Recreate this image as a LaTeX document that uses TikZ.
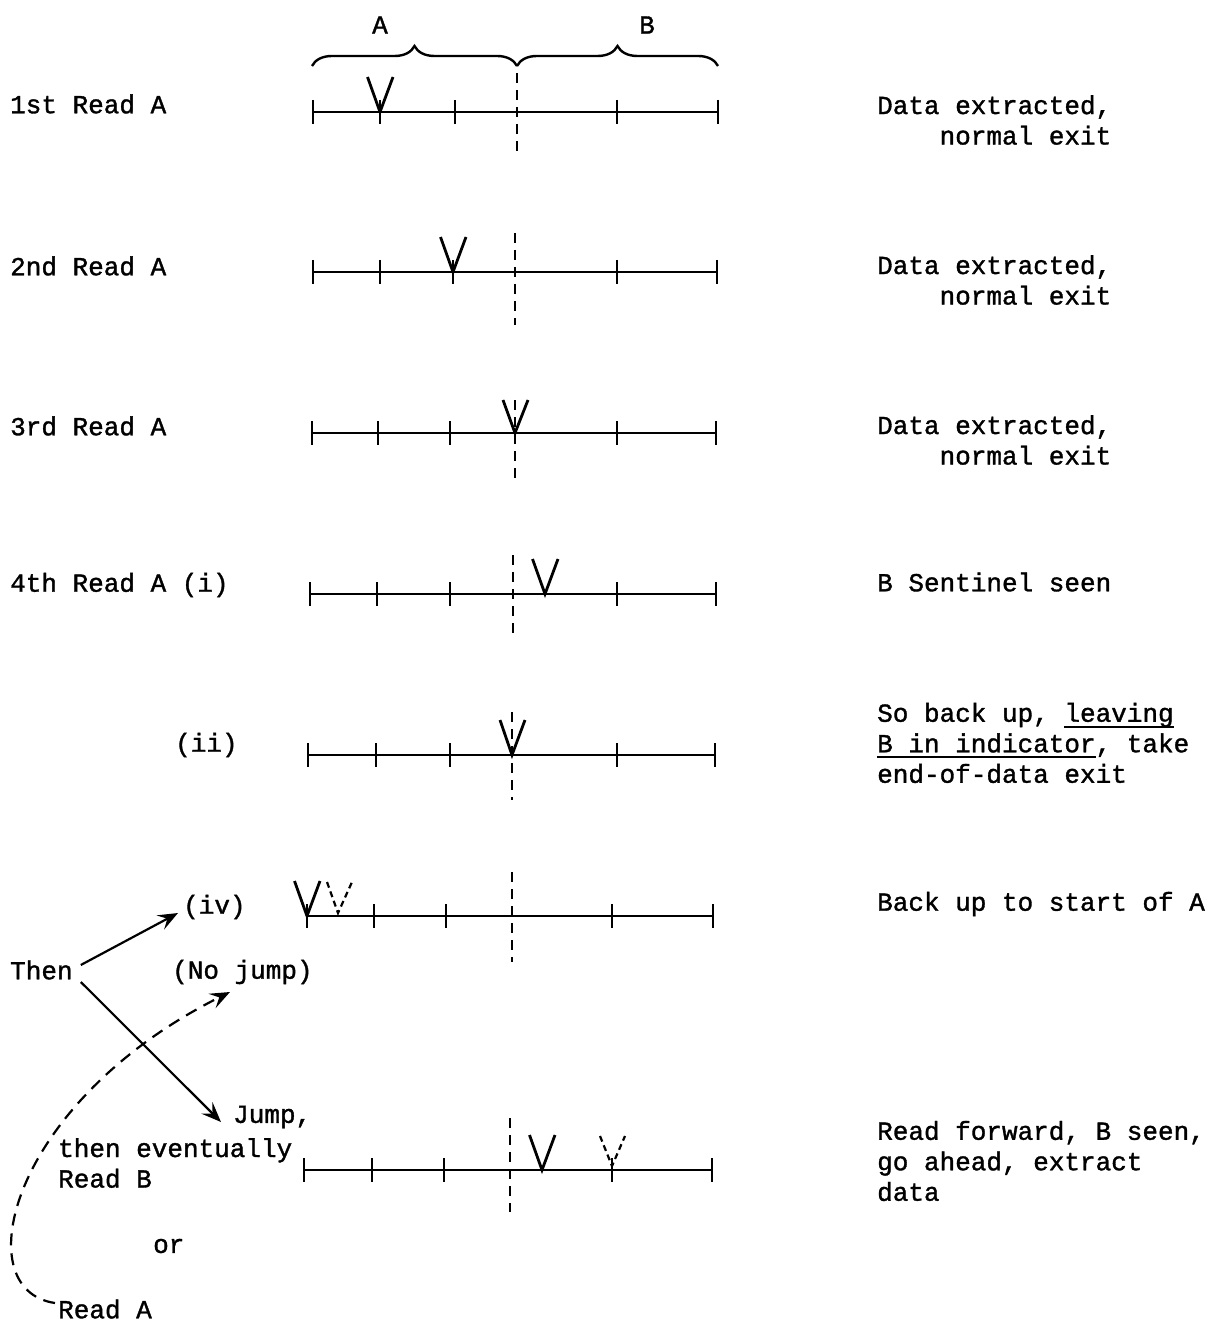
\documentclass[tikz,border=0pt]{standalone}
\usepackage{fontspec}
\newfontfamily\tw[FakeBold=1.3]{Liberation Mono}
\usetikzlibrary{decorations.pathreplacing,arrows.meta}
\newcommand\myul[1]{\setbox0\hbox{#1}\rlap{\rule[-6pt]{\wd0}{1.8pt}}\box0}
\begin{document}
\begin{tikzpicture}[x=1pt,y=-1pt,
  txt/.style={font=\tw\fontsize{26}{30.5}\selectfont, inner sep=0pt, anchor=west, align=left},
  nl/.style={line width=2pt},
  tk/.style={line width=2.4pt},
  dl/.style={line width=2.2pt, dash pattern=on 10pt off 7pt},
  vm/.style={line width=2.8pt},
  dvm/.style={line width=2.2pt, dash pattern=on 6pt off 4pt},
  arr/.style={line width=2.2pt, -{Stealth[length=20pt,width=16pt,inset=8pt]}},
  brc/.style={line width=2.4pt, decorate, decoration={brace, amplitude=20pt}}
]
\useasboundingbox (0,0) rectangle (1212,1321);
\fill[white] (0,0) rectangle (1212,1321);

% top braces and labels
\draw[brc] (312,66) -- (517,66);
\draw[brc] (517,66) -- (718,66);
\node[txt,anchor=center] (labA) at (380,25) {A};
\node[txt,anchor=center] (labB) at (647,25) {B};

% number lines: y / six tick x / dashed top / dashed bottom
\foreach \y/\a/\b/\c/\d/\e/\f/\t/\u in {
  112/313/380/455/517/617/718/73/155,
  272/313/380/453/515/617/717/233/325,
  433/312/378/450/515/617/716/400/480,
  594/310/377/450/513/617/716/555/640,
  755/308/376/450/512/617/715/712/800,
  916/307/374/446/512/612/713/872/962,
  1170/304/372/444/510/612/712/1118/1212}{
  \draw[nl] (\a,\y) -- (\f,\y);
  \foreach \x in {\a,\b,\c,\e,\f}{
    \draw[tk] (\x,{\y-12}) -- (\x,{\y+12});
  }
  \draw[dl] (\d,\t) -- (\d,\u);
}

% V markers
\newcommand\vmark[3][vm]{\draw[#1] ({#2-12.5},{#3-35}) -- (#2,#3) -- ({#2+13},{#3-35});}
\vmark{380}{112}
\vmark{453}{272}
\draw[vm] (503,400) -- (515,433) -- (528,400);
\vmark{545}{594}
\draw[vm] (500,720) -- (512,755) -- (525,720);
\vmark{307}{916}
\draw[dvm] (327,882) -- (338,913) -- (352,882);
\vmark{542}{1170}
\draw[dvm] (600,1136) -- (612,1166) -- (625,1136);

% left labels
\node[txt] (l1) at (10,104) {1st Read A};
\node[txt] (l2) at (10,266) {2nd Read A};
\node[txt] (l3) at (10,426) {3rd Read A};
\node[txt] (l4) at (10,585) {4th Read A (i)};
\node[txt] (ii) at (175,745) {(ii)};
\node[txt] (iv) at (183,907) {(iv)};
\node[txt] (then) at (10,970) {Then};
\node[txt] (nojump) at (172,972) {(No jump)};
\node[txt] (jump) at (233,1117) {Jump,};
\node[txt] (even) at (58,1163) {then eventually\\Read B};
\node[txt] (or) at (153,1246) {or};
\node[txt] (readA) at (58,1309) {Read A};

% right labels
\node[txt] (r1) at (877,120) {Data extracted,\\\hphantom{xxxx}normal exit};
\node[txt] (r2) at (877,280) {Data extracted,\\\hphantom{xxxx}normal exit};
\node[txt] (r3) at (877,440) {Data extracted,\\\hphantom{xxxx}normal exit};
\node[txt] (r4) at (877,582) {B Sentinel seen};
\node[txt] (r5) at (877,743) {So back up, \myul{leaving}\\\myul{B in indicator}, take\\end-of-data exit};
\node[txt] (r6) at (877,904) {Back up to start of A};
\node[txt] (r7) at (877,1161) {Read forward, B seen,\\go ahead, extract\\data};

% connectors
\coordinate (nj) at (230,992);
\draw[arr] ([shift={(8,-5)}]then.east) -- ([shift={(-5,6)}]iv.west);
\draw[arr] ([shift={(8,12)}]then.east) -- ([shift={(-12,5)}]jump.west);
\draw[arr, dash pattern=on 12pt off 8pt] ([shift={(-3,-6)}]readA.west) .. controls (-35,1290) and (10,1102) .. (nj);
\end{tikzpicture}
\end{document}
